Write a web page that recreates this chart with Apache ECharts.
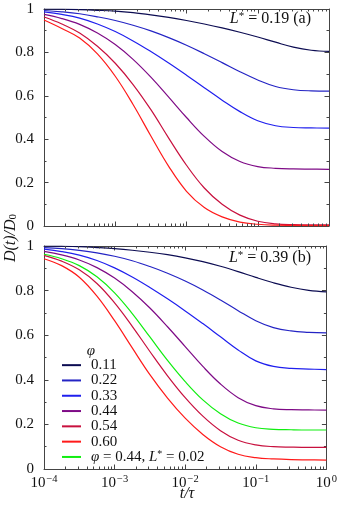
<!DOCTYPE html>
<html><head><meta charset="utf-8">
<script src="https://cdn.jsdelivr.net/npm/echarts@6/dist/echarts.min.js"></script>
<style>html,body{margin:0;padding:0;background:#fff}#c{width:340px;height:508px}</style>
</head><body><div id="c"></div>
<script>
// log10(t/tau) sample positions
const logT = [-4,-3.75,-3.5,-3.25,-3,-2.75,-2.5,-2.25,-2,-1.75,-1.5,-1.25,-1,-0.75,-0.5,-0.25,0];
const phiNames = ['0.11','0.22','0.33','0.44','0.54','0.60'];
const greenName = 'phi044_L002';
const yTicks = [0,0.2,0.4,0.6,0.8,1];
const xTickExponents = [-4,-3,-2,-1,0];

// panel (a) L* = 0.19
const topPhi011 = [1.000,0.999,0.997,0.994,0.990,0.983,0.973,0.961,0.947,0.931,0.913,0.893,0.871,0.847,0.824,0.810,0.805];
const topPhi022 = [0.993,0.987,0.978,0.964,0.947,0.925,0.899,0.868,0.833,0.794,0.753,0.711,0.673,0.643,0.628,0.623,0.622];
const topPhi033 = [0.987,0.975,0.958,0.931,0.896,0.853,0.804,0.751,0.695,0.637,0.580,0.527,0.485,0.462,0.454,0.452,0.451];
const topPhi044 = [0.975,0.956,0.929,0.889,0.836,0.768,0.686,0.594,0.500,0.413,0.343,0.297,0.274,0.266,0.263,0.262,0.261];
const topPhi054 = [0.963,0.931,0.889,0.828,0.750,0.652,0.536,0.405,0.280,0.175,0.100,0.050,0.022,0.010,0.006,0.005,0.005];
const topPhi060 = [0.949,0.910,0.866,0.793,0.690,0.560,0.415,0.275,0.160,0.085,0.042,0.018,0.008,0.004,0.003,0.002,0.002];

// panel (b) L* = 0.39
const botPhi011 = [1.000,0.999,0.997,0.993,0.988,0.981,0.972,0.961,0.947,0.930,0.909,0.885,0.859,0.835,0.815,0.801,0.794];
const botPhi022 = [0.993,0.988,0.980,0.969,0.954,0.934,0.908,0.878,0.843,0.803,0.758,0.710,0.665,0.634,0.619,0.613,0.610];
const botPhi033 = [0.986,0.975,0.959,0.935,0.902,0.861,0.814,0.763,0.709,0.652,0.593,0.534,0.485,0.460,0.451,0.448,0.446];
const botPhi044 = [0.976,0.960,0.937,0.903,0.856,0.795,0.722,0.638,0.549,0.460,0.381,0.320,0.284,0.270,0.266,0.265,0.264];
const botPhi054 = [0.958,0.932,0.893,0.832,0.745,0.640,0.527,0.418,0.320,0.237,0.172,0.129,0.108,0.100,0.098,0.097,0.097];
const botPhi060 = [0.943,0.912,0.860,0.775,0.665,0.543,0.423,0.318,0.228,0.155,0.100,0.066,0.051,0.045,0.042,0.041,0.040];
const botGreen  = [0.963,0.943,0.912,0.862,0.790,0.697,0.592,0.487,0.392,0.310,0.248,0.206,0.185,0.178,0.176,0.175,0.175];

const colors = ['#0c0c52','#2424c4','#1f1fee','#7e0a86','#c8103e','#ff1a1a'];
const greenColor = '#10ee10';

const SERIF = '"Liberation Serif", "DejaVu Serif", serif';
const AX = '#444';

function pts(arr){ return arr.map((v,i)=>[Math.pow(10, logT[i]), v]); }

const topSets = [topPhi011,topPhi022,topPhi033,topPhi044,topPhi054,topPhi060];
const botSets = [botPhi011,botPhi022,botPhi033,botPhi044,botPhi054,botPhi060];

const series = [];
topSets.forEach((a,i)=>series.push({type:'line',name:phiNames[i],xAxisIndex:0,yAxisIndex:0,data:pts(a),
  showSymbol:false,symbol:'none',smooth:0.4,color:colors[i],lineStyle:{width:1.2,color:colors[i]},z:3}));
botSets.forEach((a,i)=>series.push({type:'line',name:phiNames[i],xAxisIndex:2,yAxisIndex:2,data:pts(a),
  showSymbol:false,symbol:'none',smooth:0.4,color:colors[i],lineStyle:{width:1.2,color:colors[i]},z:3}));
series.push({type:'line',name:greenName,xAxisIndex:2,yAxisIndex:2,data:pts(botGreen),
  showSymbol:false,symbol:'none',smooth:0.4,color:greenColor,lineStyle:{width:1.2,color:greenColor},z:3});

// log-axis minor ticks (2..9 x 10^k)
const minorT = [];
for (let k=-4;k<0;k++) for (let d=2; d<=9; d++) minorT.push(d*Math.pow(10,k));
function minorTickSeries(xi, yi){
  return {type:'custom', xAxisIndex:xi, yAxisIndex:yi, silent:true, z:5, clip:false,
    data: minorT.map(t=>[t,0]),
    renderItem:(p, api)=>{
      const b = api.coord([api.value(0),0]);
      const t = api.coord([api.value(0),1]);
      const x = Math.round(b[0])+0.5;
      return {type:'group',children:[
        {type:'line',shape:{x1:x,y1:b[1],x2:x,y2:b[1]-2.5},style:{stroke:AX,lineWidth:1}},
        {type:'line',shape:{x1:x,y1:t[1],x2:x,y2:t[1]+2.5},style:{stroke:AX,lineWidth:1}}
      ]};
    }};
}
series.push(minorTickSeries(0,0));
series.push(minorTickSeries(2,2));

function xAx(gi, pos, labels){
  return {type:'log', logBase:10, gridIndex:gi, position:pos, min:1e-4, max:1,
    axisLine:{show:true, onZero:false, lineStyle:{color:AX,width:1}},
    axisTick:{show:true, inside:true, length:4.5, lineStyle:{color:AX}},
    minorTick:{show:false},
    splitLine:{show:false},
    axisLabel:{show:labels, margin:5, color:'#111', fontFamily:SERIF, fontSize:15,
      formatter:(v)=>'{b|10}{s|' + String(Math.round(Math.log10(v))).replace('-','\u2212') + '}',
      rich:{b:{fontFamily:SERIF,fontSize:15,lineHeight:17,verticalAlign:'bottom',color:'#111'},
            s:{fontFamily:SERIF,fontSize:10.5,lineHeight:17,verticalAlign:'top',color:'#111',padding:[0,0,0,1]}}}
  };
}
function yAx(gi, pos, labels){
  return {type:'value', gridIndex:gi, position:pos, min:0, max:1, interval:0.2,
    axisLine:{show:true, lineStyle:{color:AX,width:1}},
    axisTick:{show:true, inside:true, length:4.5, lineStyle:{color:AX}},
    minorTick:{show:true, splitNumber:2, length:2.5, lineStyle:{color:AX}},
    splitLine:{show:false},
    axisLabel:{show:labels, margin:10, color:'#111', fontFamily:SERIF, fontSize:15,
      formatter:(v)=> (v===0?'0':(Math.abs(v-1)<1e-9?'1':v.toFixed(1)))}
  };
}

const legendLabel = {};
phiNames.forEach(n=>legendLabel[n]=n);
legendLabel[greenName] = '{i|\u03c6} = 0.44, {i|L}{sup|*} = 0.02';

const option = {
  animation:false,
  backgroundColor:'#fff',
  grid:[
    {left:44, top:9, width:285, height:217, containLabel:false},
    {left:44, top:246, width:285, height:223, containLabel:false}
  ],
  xAxis:[xAx(0,'bottom',false), xAx(0,'top',false), xAx(1,'bottom',true), xAx(1,'top',false)],
  yAxis:[yAx(0,'left',true), yAx(0,'right',false), yAx(1,'left',true), yAx(1,'right',false)],
  legend:{
    orient:'vertical', left:62, top:357.5, padding:0, itemWidth:19, itemHeight:2, itemGap:0, icon:'rect',
    data:[...phiNames, greenName],
    selectedMode:false,
    formatter:(n)=>legendLabel[n],
    textStyle:{fontFamily:SERIF, fontSize:15, lineHeight:15.3, color:'#111', padding:[0,0,0,5],
      rich:{i:{fontFamily:SERIF,fontStyle:'italic',fontSize:15,color:'#111'},
            sup:{fontFamily:SERIF,fontSize:10,verticalAlign:'top',color:'#111'}}}
  },
  graphic:[
    {type:'text', x:311, y:19, style:{text:'{i|L}{sup|*} = 0.19 (a)', fill:'#111', font:'16px '+SERIF,
      align:'right', verticalAlign:'middle', rich:{i:{fontFamily:SERIF,fontStyle:'italic',fontSize:16,fill:'#111'},
      sup:{fontFamily:SERIF,fontSize:11,verticalAlign:'top',fill:'#111'}}}},
    {type:'text', x:311, y:258, style:{text:'{i|L}{sup|*} = 0.39 (b)', fill:'#111', font:'16px '+SERIF,
      align:'right', verticalAlign:'middle', rich:{i:{fontFamily:SERIF,fontStyle:'italic',fontSize:16,fill:'#111'},
      sup:{fontFamily:SERIF,fontSize:11,verticalAlign:'top',fill:'#111'}}}},
    {type:'text', x:91, y:351, style:{text:'\u03c6', fill:'#111', font:'italic 15px '+SERIF, align:'center', verticalAlign:'middle'}},
    {type:'text', x:187, y:494, style:{text:'t/\u03c4', fill:'#111', font:'italic 16px '+SERIF, align:'center', verticalAlign:'middle'}},
    {type:'text', x:11, y:238, rotation:Math.PI/2, style:{text:'{i|D}(t)/{i|D}{sub|0}', fill:'#111', font:'italic 16px '+SERIF,
      align:'center', verticalAlign:'middle',
      rich:{i:{fontFamily:SERIF,fontStyle:'italic',fontSize:16,fill:'#111'},
            sub:{fontFamily:SERIF,fontSize:11,verticalAlign:'bottom',fill:'#111'}}}}
  ],
  series
};
const chart = echarts.init(document.getElementById('c'), null, {renderer:'canvas'});
chart.setOption(option);
</script></body></html>
